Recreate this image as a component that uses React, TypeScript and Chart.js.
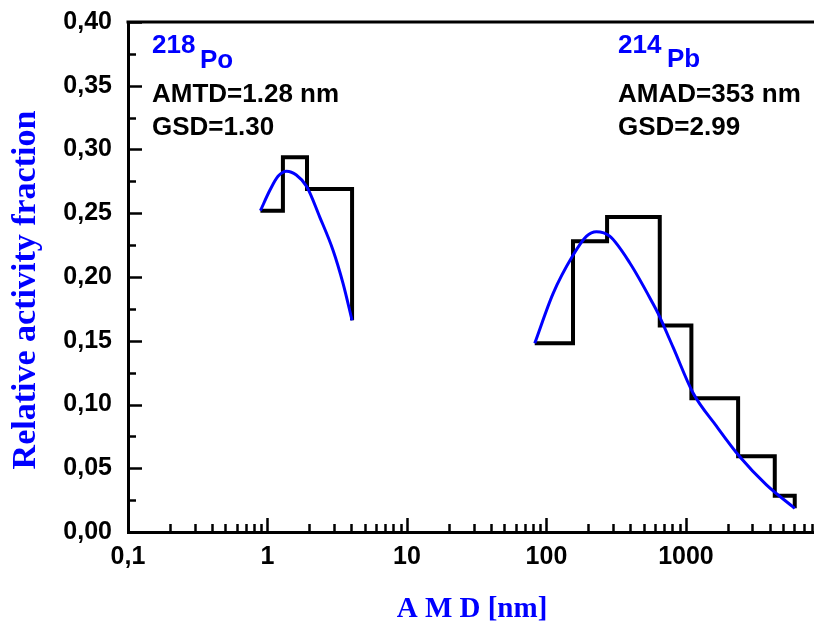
import { useEffect, useRef } from 'react';
import { Chart, registerables } from 'chart.js';

Chart.register(...registerables);

// 218Po histogram (bin edges in nm, activity fraction per bin)
const poEdges = [0.89, 1.29, 1.92, 4.04];
const poFractions = [0.252, 0.294, 0.269];
const poTail = 0.166;

// 214Pb histogram
const pbEdges = [82.4, 155, 272, 649, 1094, 2366, 4333, 6025];
const pbFractions = [0.148, 0.228, 0.247, 0.162, 0.105, 0.0595, 0.0285];
const pbTail = 0.0186;

// Lognormal fit curves
const poFitD = [0.89, 1.04, 1.19, 1.37, 1.61, 1.91, 2.37, 2.95, 3.48, 4.04];
const poFitF = [0.252, 0.268, 0.279, 0.283, 0.28, 0.271, 0.247, 0.221, 0.195, 0.166];
const pbFitD = [82.4, 111.5, 155, 194, 228, 284, 396, 581, 631, 808, 1125, 1655, 2432, 3776, 6025];
const pbFitF = [0.148, 0.187, 0.217, 0.232, 0.2355, 0.232, 0.211, 0.179, 0.1714, 0.145, 0.109, 0.083, 0.059, 0.037, 0.0186];

const xTickValues = [0.1, 1, 10, 100, 1000];
const xTickLabels = ['0,1', '1', '10', '100', '1000'];
const xMin = 0.1;
const xMax = 8280;
const yTickStep = 0.05;

const BLUE = '#0000ff';
const SANS = '"Liberation Sans", Arial, sans-serif';
const SERIF = '"Liberation Serif", "Times New Roman", serif';

function histPoints(edges: number[], vals: number[], tail: number) {
  const pts: { x: number; y: number }[] = [];
  vals.forEach((v, i) => {
    pts.push({ x: edges[i], y: v });
    pts.push({ x: edges[i + 1], y: v });
  });
  pts.push({ x: edges[edges.length - 1], y: tail });
  return pts;
}

function curvePoints(xs: number[], ys: number[]) {
  return xs.map((x, i) => ({ x, y: ys[i] }));
}

const decor = {
  id: 'decor',
  afterDraw(chart: any) {
    const { ctx, chartArea: a, scales } = chart;
    const x = scales.x;
    const y = scales.y;
    ctx.save();
    ctx.strokeStyle = '#000';
    ctx.lineCap = 'butt';
    // frame top
    ctx.lineWidth = 3;
    ctx.beginPath();
    ctx.moveTo(a.left - 1.5, a.top);
    ctx.lineTo(a.right, a.top);
    ctx.stroke();
    // inward y ticks
    ctx.lineWidth = 2.5;
    for (let i = 0; i <= 16; i++) {
      const v = i * 0.025;
      const py = Math.round(y.getPixelForValue(v)) + 0.5;
      const len = i % 2 === 0 ? 14 : 8;
      ctx.beginPath();
      ctx.moveTo(a.left, py);
      ctx.lineTo(a.left + len, py);
      ctx.stroke();
    }
    // inward x ticks (log)
    for (let e = -1; e <= 3; e++) {
      for (let m = 1; m <= 9; m++) {
        const v = m * Math.pow(10, e);
        if (v < x.min - 1e-9 || v > x.max) continue;
        const px = Math.round(x.getPixelForValue(v)) + 0.5;
        const len = m === 1 ? 14 : 8;
        ctx.beginPath();
        ctx.moveTo(px, a.bottom);
        ctx.lineTo(px, a.bottom - len);
        ctx.stroke();
      }
    }
    // annotations
    ctx.textBaseline = 'alphabetic';
    ctx.textAlign = 'left';
    ctx.font = `bold 26px ${SANS}`;
    ctx.fillStyle = BLUE;
    ctx.fillText('218', a.left + 24, a.top + 31);
    ctx.fillText('Po', a.left + 72, a.top + 46);
    ctx.fillText('214', a.left + 490, a.top + 31);
    ctx.fillText('Pb', a.left + 539, a.top + 45);
    ctx.fillStyle = '#000';
    ctx.fillText('AMTD=1.28 nm', a.left + 24, a.top + 80);
    ctx.fillText('GSD=1.30', a.left + 24, a.top + 113);
    ctx.fillText('AMAD=353 nm', a.left + 490, a.top + 80);
    ctx.fillText('GSD=2.99', a.left + 490, a.top + 113);
    // axis titles
    ctx.fillStyle = BLUE;
    ctx.font = `bold 29px ${SERIF}`;
    ctx.textAlign = 'center';
    ctx.fillText('A M D [nm]', 472, 617);
    ctx.save();
    ctx.translate(35, 290);
    ctx.rotate(-Math.PI / 2);
    ctx.font = `bold 34px ${SERIF}`;
    ctx.fillText('Relative activity fraction', 0, 0);
    ctx.restore();
    ctx.restore();
  },
};

export default function App() {
  const ref = useRef<HTMLCanvasElement>(null);
  useEffect(() => {
    const chart = new Chart(ref.current as HTMLCanvasElement, {
      type: 'line',
      data: {
        datasets: [
          {
            label: '218Po fit',
            data: curvePoints(poFitD, poFitF),
            borderColor: BLUE,
            borderWidth: 3,
            pointRadius: 0,
            cubicInterpolationMode: 'monotone',
            fill: false,
            order: 0,
          },
          {
            label: '214Pb fit',
            data: curvePoints(pbFitD, pbFitF),
            borderColor: BLUE,
            borderWidth: 3,
            pointRadius: 0,
            cubicInterpolationMode: 'monotone',
            fill: false,
            order: 0,
          },
          {
            label: '218Po',
            data: histPoints(poEdges, poFractions, poTail),
            borderColor: '#000',
            borderWidth: 4,
            pointRadius: 0,
            tension: 0,
            borderJoinStyle: 'miter',
            fill: false,
            order: 1,
          },
          {
            label: '214Pb',
            data: histPoints(pbEdges, pbFractions, pbTail),
            borderColor: '#000',
            borderWidth: 4,
            pointRadius: 0,
            tension: 0,
            borderJoinStyle: 'miter',
            fill: false,
            order: 1,
          },
        ],
      },
      options: {
        responsive: false,
        animation: false,
        events: [],
        layout: { padding: { top: 22, right: 0, left: 0, bottom: 0 } },
        plugins: { legend: { display: false }, tooltip: { enabled: false }, title: { display: false } },
        scales: {
          x: {
            type: 'logarithmic',
            min: xMin,
            max: xMax,
            afterBuildTicks: (s: any) => {
              s.ticks = xTickValues.map((v) => ({ value: v }));
            },
            afterFit: (s: any) => {
              s.height = 92;
              s.paddingLeft = 0;
              s.paddingRight = 0;
            },
            grid: { display: true, drawOnChartArea: false, drawTicks: false },
            border: { display: true, color: '#000', width: 3 },
            ticks: {
              autoSkip: false,
              maxRotation: 0,
              padding: 10,
              color: '#000',
              font: { family: SANS, size: 25, weight: 'bold' },
              callback: (_v: any, i: number) => xTickLabels[i],
            },
          },
          y: {
            type: 'linear',
            min: 0,
            max: 0.4,
            afterFit: (s: any) => {
              s.width = 128;
              s.paddingTop = 0;
              s.paddingBottom = 0;
            },
            grid: { display: true, drawOnChartArea: false, drawTicks: false },
            border: { display: true, color: '#000', width: 3 },
            ticks: {
              stepSize: yTickStep,
              padding: 16,
              color: '#000',
              font: { family: SANS, size: 25, weight: 'bold' },
              callback: (v: any) => Number(v).toFixed(2).replace('.', ','),
            },
          },
        },
      },
      plugins: [decor],
    } as any);
    return () => chart.destroy();
  }, []);
  return (
    <div style={{ position: 'fixed', left: 0, top: 0, width: 814, height: 624, overflow: 'hidden', background: '#fff' }}>
      <canvas ref={ref} width={814} height={624} style={{ display: 'block' }} />
    </div>
  );
}
